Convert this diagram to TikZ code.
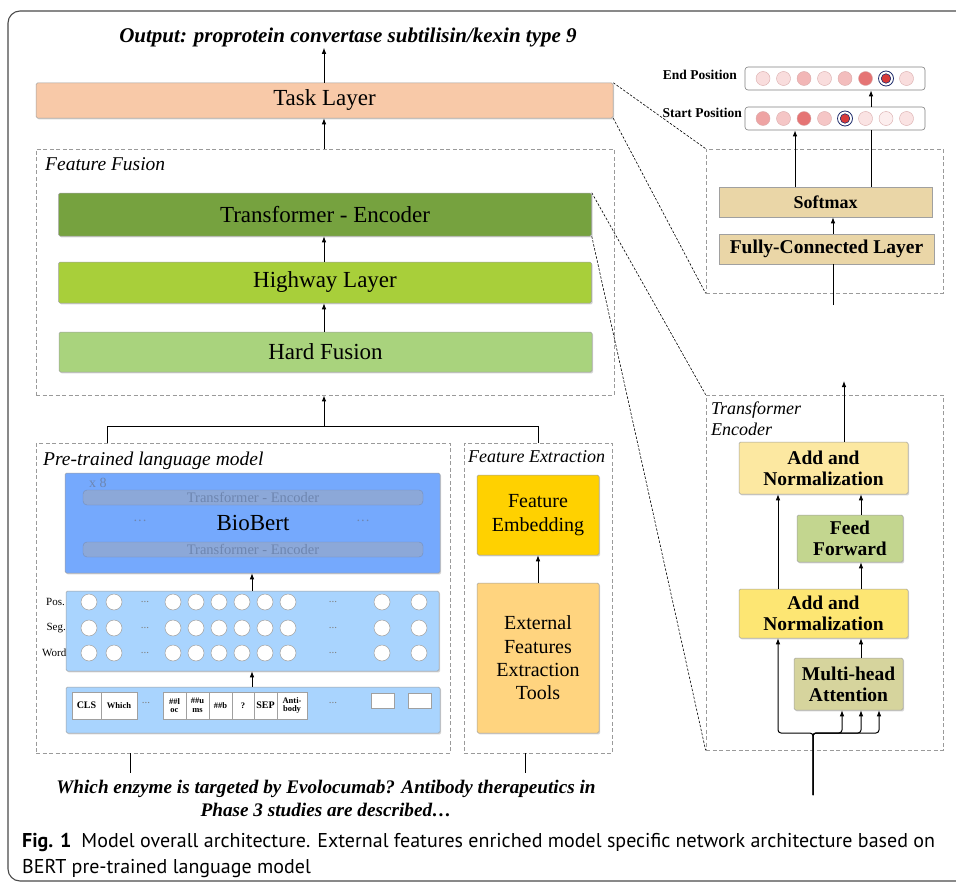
\documentclass[tikz,border=0pt]{standalone}
\usepackage{fontspec}
\setmainfont{Liberation Serif}
\newfontfamily\capfont{PT Sans}
\usetikzlibrary{arrows.meta,shadows}
\definecolor{taskc}{HTML}{F8C9A8}
\definecolor{tec}{HTML}{76A23F}
\definecolor{hwc}{HTML}{A8CF3A}
\definecolor{hfc}{HTML}{A9D37D}
\definecolor{bbc}{HTML}{75A9FD}
\definecolor{barc}{HTML}{8CA8D8}
\definecolor{bartx}{HTML}{6E86B0}
\definecolor{lbc}{HTML}{A9D4FE}
\definecolor{fec}{HTML}{FFD100}
\definecolor{extc}{HTML}{FFD47F}
\definecolor{smc}{HTML}{EAD6A7}
\definecolor{an1c}{HTML}{FCE8A1}
\definecolor{ffc}{HTML}{C3D68F}
\definecolor{an2c}{HTML}{FDE673}
\definecolor{mhac}{HTML}{D6D49D}
\definecolor{dashgray}{HTML}{9A9A9A}
\definecolor{bordergray}{HTML}{A0A0A0}
\definecolor{framec}{HTML}{4A4A4A}
\definecolor{navy}{HTML}{1E2B6B}
\definecolor{selred}{HTML}{D83A3A}
\definecolor{pinkb}{HTML}{D9AAAA}
\definecolor{pA}{HTML}{F9DDDD}
\definecolor{pB}{HTML}{F2B6B6}
\definecolor{pC}{HTML}{F3BDBD}
\definecolor{pD}{HTML}{E57474}
\definecolor{pE}{HTML}{EEA3A3}
\definecolor{pF}{HTML}{F5C6C6}
\definecolor{pG}{HTML}{FAE3E3}
\definecolor{pH}{HTML}{FCEEEE}
\begin{document}
\begin{tikzpicture}[x=1pt,y=-1pt,
  box/.style={draw=bordergray, line width=0.5pt, rounded corners=1.5pt, inner sep=0pt, align=center,
    drop shadow={shadow xshift=1.2pt, shadow yshift=-1.4pt, opacity=0.35}},
  flat/.style={draw=bordergray, line width=0.5pt, inner sep=0pt, align=center, fill=white},
  dbox/.style={draw=dashgray, dash pattern=on 4pt off 2.5pt, line width=0.7pt, inner sep=0pt},
  arr/.style={-{Latex[length=6pt,width=4.6pt]}, line width=1pt},
  plain/.style={line width=1pt},
  zline/.style={dash pattern=on 2.5pt off 1.6pt, line width=0.6pt},
  bigf/.style={font=\fontsize{23}{26}\selectfont},
  itl/.style={font=\fontsize{19.5}{22}\selectfont\itshape},
  bf20/.style={font=\fontsize{19.5}{22}\selectfont\bfseries},
  pc/.style={circle, draw=pinkb, line width=0.4pt, minimum size=14pt, inner sep=0pt},
  ec/.style={circle, draw=bordergray, fill=white, line width=0.5pt, minimum size=16pt, inner sep=0pt},
  tok/.style={flat, minimum height=27pt, font=\fontsize{8.5}{8.5}\selectfont\bfseries},
  dots/.style={text=gray, font=\fontsize{11}{12}\selectfont, inner sep=0pt},
]
\useasboundingbox (0,0) rectangle (956,883);
\clip (0,0) rectangle (956,883);
% outer frame
\draw[framec, line width=1.1pt, rounded corners=12pt] (1000,11) -- (8,11) -- (8,881) -- (1000,881);

% column coordinates
\coordinate (c1) at (324,0);
\coordinate (c2) at (252,0);
\coordinate (c3) at (538,0);
\coordinate (c4) at (107,0);

% ---------- left main column ----------
\node[font=\fontsize{21}{24}\selectfont\bfseries\itshape, inner sep=1pt] (out) at (348,37) {Output: proprotein convertase subtilisin/kexin type 9};
\node[box, fill=taskc, minimum width=577pt, minimum height=35pt, bigf] (task) at (324.5,100.5) {Task Layer};

\node[dbox, minimum width=578pt, minimum height=246pt] (ff) at (325,272) {};
\node[itl, anchor=base west, inner sep=0pt] (fflab) at (45,170) {Feature Fusion};
\node[box, fill=tec, minimum width=533pt, minimum height=43pt, bigf] (te) at (325,214.5) {Transformer - Encoder};
\node[box, fill=hwc, minimum width=533pt, minimum height=41pt, bigf] (hw) at (325,282.5) {Highway Layer};
\node[box, fill=hfc, minimum width=533pt, minimum height=40pt, bigf] (hf) at (325.5,352) {Hard Fusion};

\draw[arr] (c1 |- task.north) -- (c1 |- out.south);
\draw[arr] (c1 |- ff.north) -- (c1 |- task.south);
\draw[arr] (c1 |- hw.north) -- (c1 |- te.south);
\draw[arr] (c1 |- hf.north) -- (c1 |- hw.south);

% ---------- pre-trained language model ----------
\node[dbox, minimum width=414pt, minimum height=310pt] (plm) at (243,598) {};
\node[itl, anchor=base west, inner sep=0pt] (plmlab) at (43,465) {Pre-trained language model};
\node[dbox, minimum width=148pt, minimum height=310pt] (fex) at (538,598) {};
\node[font=\fontsize{18}{22}\selectfont\itshape, anchor=base west, inner sep=0pt] (fexlab) at (468,462) {Feature Extraction};

\coordinate (br) at (324,426);
\coordinate (brl) at (107,426);
\coordinate (brr) at (538,426);
\draw[plain] (c4 |- plm.north) -- (brl) -- (brr) -- (c3 |- fex.north);
\draw[arr] (br) -- (c1 |- ff.south);

% BioBert
\node[box, fill=bbc, minimum width=375pt, minimum height=100pt] (bb) at (252.5,523) {};
\node[draw=barc!85!black, fill=barc, rounded corners=4pt, minimum width=340pt, minimum height=15pt, inner sep=0pt,
  text=bartx, font=\fontsize{14.5}{15}\selectfont] (bar1) at (253,497.5) {Transformer - Encoder};
\node[draw=barc!85!black, fill=barc, rounded corners=4pt, minimum width=340pt, minimum height=15pt, inner sep=0pt,
  text=bartx, font=\fontsize{14.5}{15}\selectfont] (bar2) at (253,549.5) {Transformer - Encoder};
\node[text=bartx, font=\fontsize{14}{15}\selectfont, anchor=west, inner sep=0pt] (x8) at (89,483) {x 8};
\node[bigf, inner sep=0pt] (bbt) at (253,523) {BioBert};
\node[text=bartx, font=\fontsize{14}{15}\selectfont, inner sep=0pt] (bbd1) at (140,523) {···};
\node[text=bartx, font=\fontsize{14}{15}\selectfont, inner sep=0pt] (bbd2) at (363,523) {···};

% embeddings
\node[box, fill=lbc, minimum width=373pt, minimum height=80pt] (emb) at (252.5,631) {};
\foreach \y [count=\j] in {602,628,653} {
  \foreach \x [count=\i] in {89,114,173,196,219,242,265,288,382,419} {
    \node[ec] (e\j-\i) at (\x,\y) {};
  }
  \node[dots] (ed\j a) at (145,\y) {...};
  \node[dots] (ed\j b) at (333,\y) {...};
}
\node[font=\fontsize{11}{12}\selectfont, anchor=east, inner sep=0pt] (lpos) at (65,602) {Pos.};
\node[font=\fontsize{11}{12}\selectfont, anchor=east, inner sep=0pt] (lseg) at (66,628) {Seg.};
\node[font=\fontsize{11}{12}\selectfont, anchor=east, inner sep=0pt] (lword) at (66.5,653) {Word};

% tokens
\node[box, fill=lbc, minimum width=374pt, minimum height=46pt] (tokbox) at (253,710) {};
\node[tok, minimum width=29pt, font=\fontsize{10}{10}\selectfont\bfseries] (t1) at (86.5,705.5) {CLS};
\node[tok, minimum width=36pt] (t2) at (119,705.5) {Which};
\node[dots] (td1) at (146,703) {...};
\node[tok, minimum width=23pt, align=center] (t3) at (174.5,705.5) {\#\#l\\oc};
\node[tok, minimum width=23pt, align=center] (t4) at (197.5,705.5) {\#\#u\\ms};
\node[tok, minimum width=23pt] (t5) at (220.5,705.5) {\#\#b};
\node[tok, minimum width=22pt] (t6) at (243,705.5) {?};
\node[tok, minimum width=23pt, font=\fontsize{10}{10}\selectfont\bfseries] (t7) at (265.5,705.5) {SEP};
\node[tok, minimum width=30pt, align=center] (t8) at (292,705.5) {Anti-\\body};
\node[dots] (td2) at (333,703) {...};
\node[flat, minimum width=23pt, minimum height=15pt] (t9) at (382.5,700.5) {};
\node[flat, minimum width=23pt, minimum height=15pt] (t10) at (419.5,700.5) {};

\draw[arr] (c2 |- emb.north) -- (c2 |- bb.south);
\draw[arr] (c2 |- tokbox.north) -- (c2 |- emb.south);

% feature extraction
\node[box, fill=fec, minimum width=122pt, minimum height=80pt, font=\fontsize{20}{24}\selectfont] (femb) at (538,515) {Feature\\Embedding};
\node[box, fill=extc, minimum width=122pt, minimum height=150pt, font=\fontsize{20}{23.3}\selectfont] (ext) at (538,658) {External\\Features\\Extraction\\Tools};
\draw[arr] (c3 |- ext.north) -- (c3 |- femb.south);

% bottom input lines and question
\coordinate (q1) at (130,773);
\coordinate (q2) at (525,773);
\draw[line width=0.8pt] (q1 |- plm.south) -- (q1);
\draw[line width=0.8pt] (q2 |- fex.south) -- (q2);
\node[font=\fontsize{19.2}{23}\selectfont\bfseries\itshape, align=center, inner sep=0pt] (quest) at (326,798)
  {Which enzyme is targeted by Evolocumab? Antibody therapeutics in\\Phase 3 studies are described…};

% caption
\node[font=\capfont\fontsize{20}{26}\selectfont, anchor=base west, inner sep=0pt] (cap1) at (22,847)
  {\textbf{Fig. 1}\enspace Model overall architecture. External features enriched model specific network architecture based on};
\node[font=\capfont\fontsize{20}{26}\selectfont, anchor=base west, inner sep=0pt] (cap2) at (22,873)
  {BERT pre-trained language model};

% ---------- right: task layer detail ----------
\node[draw=gray, fill=white, line width=0.6pt, rounded corners=3pt, minimum width=180pt, minimum height=23pt, inner sep=0pt] (endb) at (835,78.5) {};
\node[draw=gray, fill=white, line width=0.6pt, rounded corners=3pt, minimum width=180pt, minimum height=23pt, inner sep=0pt] (startb) at (835,118.5) {};
\foreach \x/\c [count=\i] in {763/pA,783.5/pA,804/pB,824.5/pA,845/pC,865.5/pD,906.5/pA}
  \node[pc, fill=\c] (ec\i) at (\x,78.5) {};
\foreach \x/\c [count=\i] in {763/pE,783.5/pF,804/pD,824.5/pF,865.5/pG,886/pH,906.5/pG}
  \node[pc, fill=\c] (sc\i) at (\x,118.5) {};
\node[circle, draw=navy, line width=0.8pt, minimum size=15pt, inner sep=0pt] (esel) at (886,78.5) {};
\node[circle, draw=navy, fill=selred, line width=0.6pt, minimum size=9.5pt, inner sep=0pt] (eseli) at (886,78.5) {};
\node[circle, draw=navy, line width=0.8pt, minimum size=15pt, inner sep=0pt] (ssel) at (845,118.5) {};
\node[circle, draw=navy, fill=selred, line width=0.6pt, minimum size=9.5pt, inner sep=0pt] (sseli) at (845,118.5) {};
\node[font=\fontsize{13.5}{15}\selectfont\bfseries, anchor=east, inner sep=0pt] (endl) at (737,75) {End Position};
\node[font=\fontsize{13.5}{15}\selectfont\bfseries, anchor=east, inner sep=0pt] (startl) at (742,113) {Start Position};

\node[dbox, minimum width=237pt, minimum height=144pt] (smbox) at (824.5,221) {};
\node[draw=bordergray, line width=0.5pt, fill=smc, minimum width=213pt, minimum height=30pt, inner sep=0pt, font=\fontsize{18}{20}\selectfont\bfseries] (sm) at (825.5,202) {Softmax};
\node[draw=bordergray, line width=0.5pt, fill=smc, minimum width=215pt, minimum height=30pt, inner sep=0pt, font=\fontsize{19.5}{20}\selectfont\bfseries] (fc) at (826.5,249) {Fully-Connected Layer};
\coordinate (s1) at (795,0);
\coordinate (s2) at (871,0);
\coordinate (s3) at (833,0);
\coordinate (fcin) at (833,305);
\draw[arr] (s1 |- sm.north) -- (s1 |- startb.south);
\draw[plain] (s2 |- sm.north) -- (s2 |- startb.south);
\draw[arr] (s2 |- startb.north) -- (s2 |- endb.south);
\draw[arr] (s3 |- fc.north) -- (s3 |- sm.south);
\draw[plain] (fcin) -- (s3 |- fc.south);

% ---------- right: transformer encoder detail ----------
\node[dbox, minimum width=237pt, minimum height=355pt] (tebox) at (824.5,572.5) {};
\node[font=\fontsize{18}{21}\selectfont\itshape, anchor=base west, inner sep=0pt] (tel1) at (711,414) {Transformer};
\node[font=\fontsize{18}{21}\selectfont\itshape, anchor=base west, inner sep=0pt] (tel2) at (711,435) {Encoder};
\node[box, fill=an1c, minimum width=169pt, minimum height=52pt, bf20] (an1) at (823.5,468) {Add and\\[-1pt]Normalization};
\node[box, fill=ffc, minimum width=106pt, minimum height=47pt, bf20] (ffw) at (850,538.5) {Feed\\[-1pt]Forward};
\node[box, fill=an2c, minimum width=169pt, minimum height=49pt, bf20] (an2) at (823.5,613.5) {Add and\\[-1pt]Normalization};
\node[box, fill=mhac, minimum width=109pt, minimum height=52pt, bf20] (mha) at (848.5,684) {Multi-head\\[-1pt]Attention};
\coordinate (r0) at (844,381);
\coordinate (ra) at (778,733);
\coordinate (rb) at (842,733);
\coordinate (rc) at (861,733);
\coordinate (rd) at (879,733);
\coordinate (tin) at (813,795);
\draw[arr] (r0 |- an1.north) -- (r0);
\draw[arr] (ra |- an2.north) -- (ra |- an1.south);
\draw[arr] (rc |- ffw.north) -- (rc |- an1.south);
\draw[arr] (rc |- an2.north) -- (rc |- ffw.south);
\draw[arr] (rc |- mha.north) -- (rc |- an2.south);
\draw[arr, rounded corners=3pt] (tin) |- (ra) -- (ra |- an2.south);
\draw[arr, rounded corners=3pt] (tin) |- (rb) -- (rb |- mha.south);
\draw[arr, rounded corners=3pt] (tin) |- (rc) -- (rc |- mha.south);
\draw[arr, rounded corners=3pt] (tin) |- (rd) -- (rd |- mha.south);

% ---------- zoom connectors ----------
\draw[zline] (task.north east) -- (smbox.north west);
\draw[zline] (task.south east) -- (smbox.south west);
\draw[zline] (te.north east) -- (tebox.north west);
\draw[zline] (te.south east) -- (tebox.south west);
\end{tikzpicture}
\end{document}
